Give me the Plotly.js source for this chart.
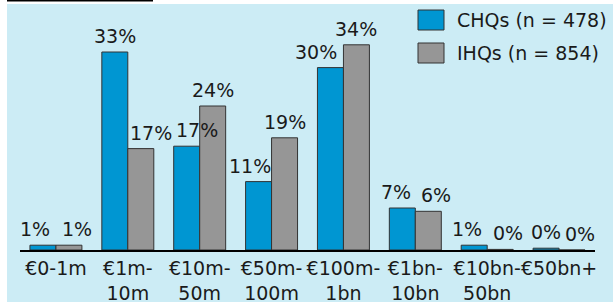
<!DOCTYPE html>
<html>
<head>
<meta charset="utf-8">
<script src="https://cdn.plot.ly/plotly-3.0.1.min.js"></script>
<style>html,body{margin:0;padding:0;background:#fff;}#chart{width:613px;height:302px;}</style>
</head>
<body>
<div id="chart"></div>
<script>
const categories = ["€0-1m", "€1m-<br>10m", "€10m-<br>50m", "€50m-<br>100m", "€100m-<br>1bn", "€1bn-<br>10bn", "€10bn-<br>50bn", "€50bn+"];
const seriesNames = ["CHQs (n = 478)", "IHQs (n = 854)"];
const chqValues = [0.8, 33, 17.3, 11.4, 30.4, 7, 0.8, 0.3];
const ihqValues = [0.8, 16.9, 24, 18.7, 34.2, 6.45, 0.1, 0];
const chqLabels = ["1%", "33%", "17%", "11%", "30%", "7%", "1%", "0%"];
const ihqLabels = ["1%", "17%", "24%", "19%", "34%", "6%", "0%", "0%"];
const colors = ["#0096D2", "#969696"];

// label placement nudges (px) to keep neighbouring labels apart
const chqNudge = [-8, 0, 10, -9, -14, -6, -7, 0];
const ihqNudge = [8, 10, 0, 0, 0, 8, 8, 8];

const W = 613, H = 302;
const m = {l: 20, r: 18, t: 30, b: 52};
const pw = W - m.l - m.r, ph = H - m.t - m.b;
const px = x => (x - m.l) / pw;
const py = y => (H - m.b - y) / ph;
const FS = 19;
const barHalf = 13;
const txtFont = {family: 'DejaVu Sans', size: FS, color: '#1a1a1a'};

const traces = [
  {type: 'bar', x: categories, y: chqValues, name: seriesNames[0], hoverinfo: 'none',
    marker: {color: colors[0], line: {color: '#333', width: 1}}},
  {type: 'bar', x: categories, y: ihqValues, name: seriesNames[1], hoverinfo: 'none',
    marker: {color: colors[1], line: {color: '#333', width: 1}}}
];

const bg = '#CCECF5';
const shapes = [
  {type: 'rect', xref: 'paper', yref: 'paper', x0: px(0), x1: px(7), y0: py(H), y1: py(0), fillcolor: '#fff', line: {width: 0}},
  {type: 'rect', xref: 'paper', yref: 'paper', x0: px(0), x1: px(W), y0: py(4), y1: py(0), fillcolor: '#fff', line: {width: 0}},
  {type: 'rect', xref: 'paper', yref: 'paper', x0: px(7), x1: px(153), y0: py(1.5), y1: py(0), fillcolor: '#000', line: {width: 0}},
  {type: 'rect', xref: 'paper', yref: 'paper', x0: px(418), x1: px(444), y0: py(30), y1: py(10), fillcolor: colors[0], line: {color: '#333', width: 1}},
  {type: 'rect', xref: 'paper', yref: 'paper', x0: px(418), x1: px(444), y0: py(63), y1: py(43), fillcolor: colors[1], line: {color: '#333', width: 1}}
];
const annotations = [
  {xref: 'paper', yref: 'paper', x: px(455), y: py(20), xanchor: 'left', yanchor: 'middle', text: seriesNames[0], showarrow: false, font: txtFont},
  {xref: 'paper', yref: 'paper', x: px(455), y: py(53), xanchor: 'left', yanchor: 'middle', text: seriesNames[1], showarrow: false, font: txtFont}
];
categories.forEach((c, i) => {
  annotations.push({xref: 'x', yref: 'y', x: i, y: chqValues[i], text: chqLabels[i], showarrow: false,
    xanchor: 'center', yanchor: 'bottom', xshift: -barHalf + chqNudge[i], yshift: 3, font: txtFont});
  annotations.push({xref: 'x', yref: 'y', x: i, y: ihqValues[i], text: ihqLabels[i], showarrow: false,
    xanchor: 'center', yanchor: 'bottom', xshift: barHalf + ihqNudge[i], yshift: 3, font: txtFont});
});

const layout = {
  width: W, height: H,
  margin: m,
  paper_bgcolor: bg,
  plot_bgcolor: bg,
  showlegend: false,
  barmode: 'group',
  bargap: 0.277,
  bargroupgap: 0,
  font: txtFont,
  xaxis: {
    type: 'category', range: [-0.5, 7.5], showline: true, linecolor: '#000', linewidth: 2,
    ticks: '', tickangle: 0, showgrid: false, zeroline: false, fixedrange: true,
    tickfont: txtFont
  },
  yaxis: {range: [0, ph / 6], visible: false, showgrid: false, zeroline: false, fixedrange: true},
  shapes: shapes,
  annotations: annotations
};

Plotly.newPlot('chart', traces, layout, {displayModeBar: false, staticPlot: true});
</script>
</body>
</html>
